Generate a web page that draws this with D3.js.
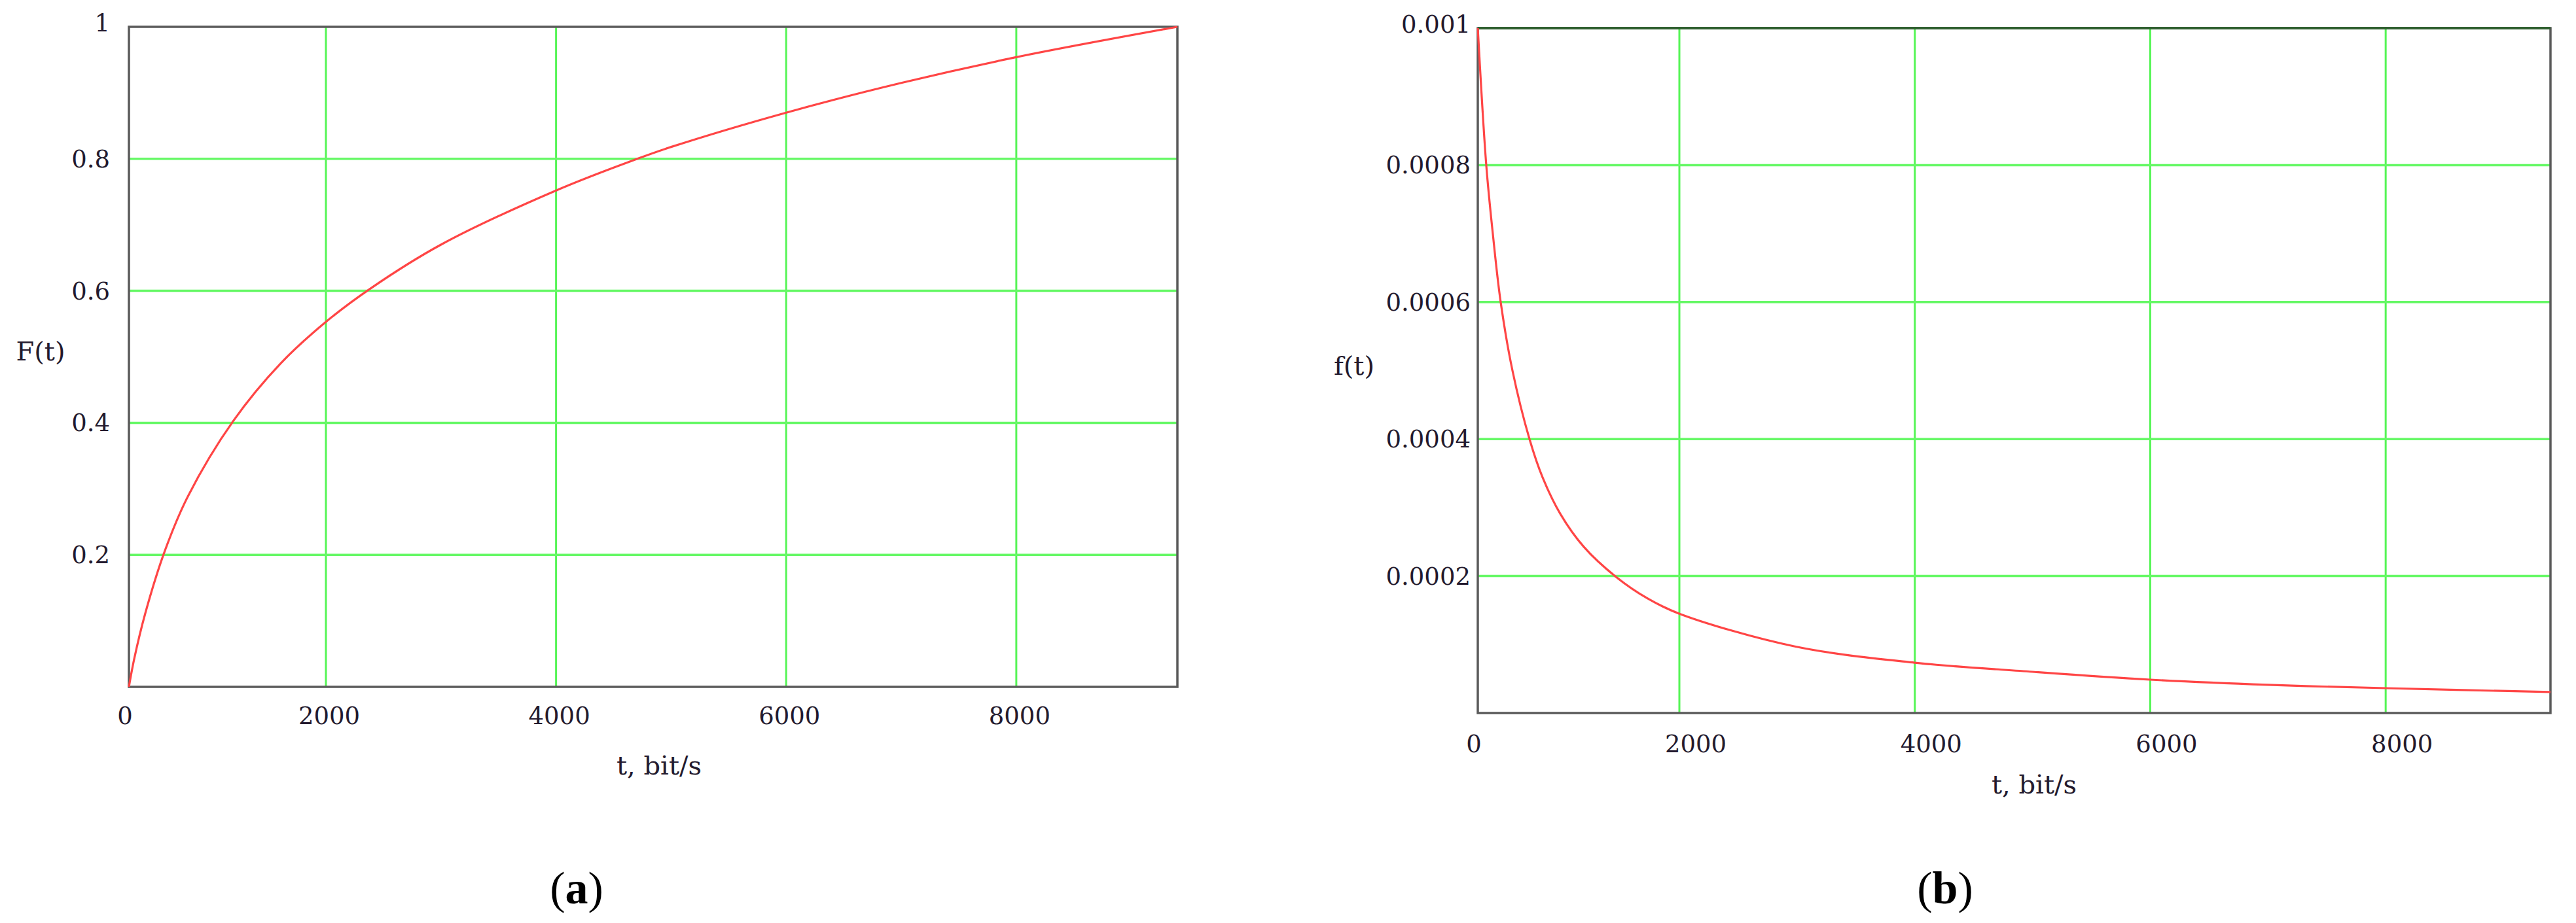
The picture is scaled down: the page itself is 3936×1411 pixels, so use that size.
<!DOCTYPE html>
<html>
<head>
    <meta charset="utf-8">
    <title>F(t) and f(t)</title>
    <script src="https://cdnjs.cloudflare.com/ajax/libs/d3/7.8.5/d3.min.js"></script>
    <style>
    body {
        margin:0;
        background:white;
    }
    .tick-label {
        font-family:'DejaVu Serif', serif;
        font-size:37px;
        fill:#231a2e;
    }
    .axis-title {
        font-family:'DejaVu Serif', serif;
        font-size:40px;
        fill:#231a2e;
    }
    .caption {
        font-family:'Liberation Serif', 'Times New Roman', serif;
        font-size:70px;
        fill:black;
    }
    </style>
</head>
<body>
<div id='chart'></div>
<script>
// t, bit/s  (shared x ticks)
var xTicks = [2000, 4000, 6000, 8000];
var xMax = 9400;

// (a) distribution function F(t)
var cdfT = [0, 53, 167, 367, 600, 1060, 1540, 2000, 2391, 3000, 4000, 4705, 5000, 6000, 7000, 8000, 9400];
var cdfF = [0, 0.042, 0.112, 0.207, 0.289, 0.403, 0.49, 0.553, 0.604, 0.670, 0.752, 0.8, 0.818, 0.870, 0.915, 0.954, 1.0];
var cdfTicks = [0.2, 0.4, 0.6, 0.8];

// (b) density f(t)
var pdfT = [0, 84, 149, 227, 344, 513, 643, 818, 1050, 1370, 1688, 2000, 2975, 4000, 5000, 6000, 7000, 8000, 9400];
var pdfF = [0.001, 0.0008, 0.0007, 0.0006, 0.0005, 0.0004, 0.000344, 0.000291, 0.000243, 0.000199, 0.000167, 0.000145,
            0.0000974, 0.0000735, 0.0000602, 0.0000487, 0.0000411, 0.0000363, 0.0000306];
var pdfTicks = [0.0002, 0.0004, 0.0006, 0.0008];

var svg = d3.select('#chart')
    .append('svg')
    .attr('width', 3936)
    .attr('height', 1411);

svg.append('rect').attr('width', 3936).attr('height', 1411).attr('fill', 'white');

function plot(opt) {
    // the first grid interval of the original is a bit shorter, so the x scale has a knot at 2000
    var x = d3.scaleLinear().domain([0, 2000, xMax]).range([opt.left, opt.knot, opt.right]);
    var y = d3.scaleLinear().domain([0, opt.yMax]).range([opt.bottom, opt.top]);
    var g = svg.append('g');

    // grid
    g.selectAll('.vgrid').data(xTicks).enter().append('line')
        .attr('x1', function(d) { return x(d); })
        .attr('x2', function(d) { return x(d); })
        .attr('y1', opt.top)
        .attr('y2', opt.bottom)
        .attr('stroke', '#55f555')
        .attr('stroke-width', 3);
    g.selectAll('.hgrid').data(opt.yTicks).enter().append('line')
        .attr('x1', opt.left)
        .attr('x2', opt.right)
        .attr('y1', function(d) { return y(d); })
        .attr('y2', function(d) { return y(d); })
        .attr('stroke', '#66f866')
        .attr('stroke-width', 3.5);

    // frame
    g.append('rect')
        .attr('x', opt.left).attr('y', opt.top)
        .attr('width', opt.right - opt.left).attr('height', opt.bottom - opt.top)
        .attr('fill', 'none').attr('stroke', '#5a5a5a').attr('stroke-width', 3.5);
    if (opt.topColor) {
        g.append('line')
            .attr('x1', opt.left).attr('x2', opt.right)
            .attr('y1', y(opt.yMax)).attr('y2', y(opt.yMax))
            .attr('stroke', opt.topColor).attr('stroke-width', 4);
    }

    // curve
    var pts = opt.tx.map(function(t, i) { return [t, opt.ty[i]]; });
    var line = d3.line()
        .x(function(d) { return x(d[0]); })
        .y(function(d) { return y(d[1]); })
        .curve(d3.curveCatmullRom.alpha(0.5));
    g.append('path')
        .datum(pts)
        .attr('d', line)
        .attr('fill', 'none')
        .attr('stroke', '#ff4545')
        .attr('stroke-width', 3.2);

    // x tick labels
    g.selectAll('.xlab').data([0].concat(xTicks)).enter().append('text')
        .attr('class', 'tick-label')
        .attr('x', function(d) { return d === 0 ? x(d) - 6 : x(d) + opt.xdx; })
        .attr('y', opt.bottom + opt.xdy)
        .attr('dy', '0.35em')
        .attr('text-anchor', 'middle')
        .text(function(d) { return d; });

    // y tick labels
    g.selectAll('.ylab').data(opt.yTicks.concat([opt.yMax])).enter().append('text')
        .attr('class', 'tick-label')
        .attr('x', opt.left - opt.ydx)
        .attr('y', function(d) { return d === opt.yMax ? y(d) - 6 : y(d); })
        .attr('dy', '0.35em')
        .attr('text-anchor', 'end')
        .text(function(d) { return opt.fmt(d); });

    // titles
    g.append('text').attr('class', 'axis-title')
        .attr('x', opt.xTitle[0]).attr('y', opt.xTitle[1])
        .attr('dy', '0.35em').attr('text-anchor', 'middle')
        .text('t, bit/s');
    g.append('text').attr('class', 'axis-title')
        .attr('x', opt.yTitle[0]).attr('y', opt.yTitle[1])
        .attr('dy', '0.35em').attr('text-anchor', 'middle')
        .text(opt.yName);

    var cap = g.append('text').attr('class', 'caption')
        .attr('x', opt.caption).attr('y', 1381)
        .attr('text-anchor', 'middle');
    cap.append('tspan').text('(');
    cap.append('tspan').attr('font-weight', 'bold').text(opt.letter);
    cap.append('tspan').text(')');
}

plot({
    left: 197, knot: 498, right: 1799, top: 41, bottom: 1050,
    yMax: 1, yTicks: cdfTicks, tx: cdfT, ty: cdfF,
    fmt: function(d) { return d3.format('')(d); },
    xdx: 5, xdy: 44, ydx: 29,
    xTitle: [1007, 1170], yTitle: [62, 537], yName: 'F(t)',
    caption: 881, letter: 'a'
});

plot({
    left: 2258, knot: 2566, right: 3897, top: 43, bottom: 1090,
    yMax: 0.001, yTicks: pdfTicks, tx: pdfT, ty: pdfF,
    fmt: function(d) { return d3.format('.4~f')(d); },
    xdx: 25, xdy: 47, ydx: 11,
    xTitle: [3108, 1199], yTitle: [2069, 559], yName: 'f(t)',
    topColor: '#2f5f2f',
    caption: 2972, letter: 'b'
});
</script>
</body>
</html>
